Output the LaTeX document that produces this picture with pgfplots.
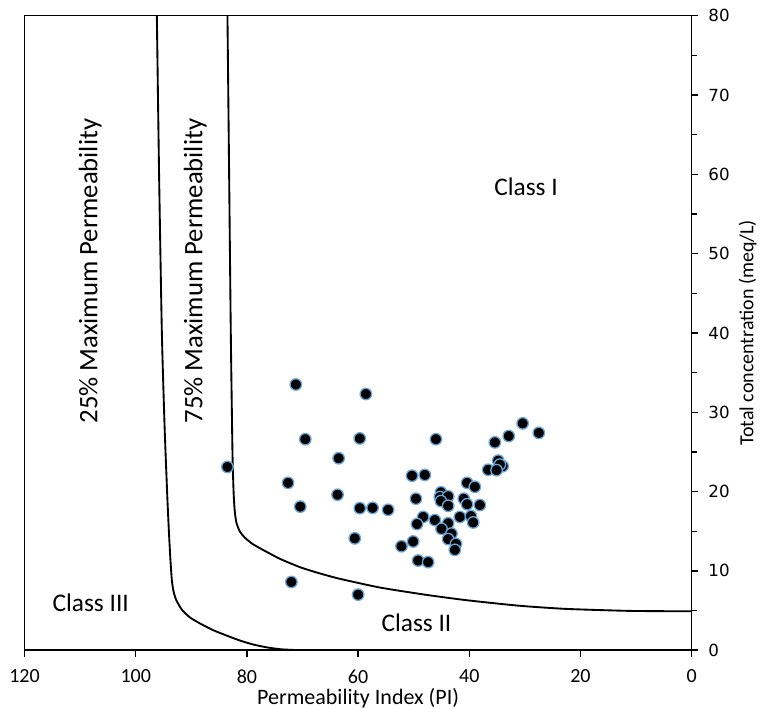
\documentclass[border=0pt]{standalone}
\usepackage{pgfplots}
\pgfplotsset{compat=1.18}
\usepackage{fontspec}
\setmainfont{Carlito}
\newfontfamily\dejavu{DejaVu Sans}
\definecolor{edgeblue}{RGB}{105,165,215}

\begin{document}
\begin{tikzpicture}
\begin{axis}[
  name=ax,
  at={(0,0)}, anchor=south west,
  width=500pt, height=475.5pt, scale only axis,
  xmin=0, xmax=120, ymin=0, ymax=80,
  x dir=reverse,
  clip=false,
  axis line style={line width=1.1pt},
  xtick={0,20,...,120},
  ytick={0,10,...,80},
  minor ytick={5,15,...,75},
  xtick pos=left, ytick pos=right,
  yticklabel pos=right,
  tick align=outside,
  major tick length=5pt,
  minor tick length=4pt,
  tick style={line width=1pt, black},
  /pgf/number format/assume math mode=true,
  xticklabel style={font=\fontsize{15}{17}\selectfont, yshift=-6pt},
  yticklabel style={font=\dejavu\fontsize{12.5}{14}\selectfont, xshift=4pt},
  every axis x label/.style={at={(axis description cs:0.5,0)}, anchor=base, yshift=-40.9pt},
  every axis y label/.style={at={(axis description cs:1,0.5)}, xshift=42pt, rotate=90, anchor=center},
  xlabel={Permeability Index (PI)},
  ylabel={Total concentration (meq/L)},
  xlabel style={font=\fontsize{16.5}{18}\selectfont},
  ylabel style={font=\fontsize{15}{17}\selectfont},
]
% 25% maximum permeability curve
\addplot[black, line width=1.4pt, smooth, tension=0.35] coordinates {
(96.2,80) (95.8,60) (95.3,40) (94.8,28) (94.3,19) (94.0,14.5) (93.75,11.3) (93.5,8.8) (93.2,7.4) (92.7,6.3) (91.7,5.1) (90.2,4.1) (88.0,3.2) (86.0,2.5) (83.5,1.8) (81.2,1.2) (78.8,0.7) (76.4,0.35) (74.0,0.12) (71.7,0.03)
};
% 75% maximum permeability curve
\addplot[black, line width=1.4pt, smooth, tension=0.35] coordinates {
(83.5,80) (83.2,60) (82.9,40) (82.6,25) (82.4,20) (82.2,17.6) (81.9,16.1) (81.3,15.0) (80.4,14.2) (79.0,13.4) (77.0,12.6) (74.0,11.5) (70.4,10.45) (67.0,9.7) (63.3,9.0) (56.1,7.9) (48.0,7.0) (40.5,6.3) (31.0,5.6) (22.5,5.2) (11.0,4.95) (0,4.9)
};
% samples
\addplot[only marks, mark=*, mark size=4.3pt, mark options={fill=black, draw=edgeblue, line width=1pt}] table {
x y
71.2 33.5
58.6 32.3
69.5 26.6
59.7 26.7
63.5 24.2
83.5 23.1
72.6 21.1
63.7 19.6
70.4 18.1
59.7 17.9
57.4 17.95
54.6 17.7
60.6 14.1
72.0 8.6
60.0 7.0
30.4 28.6
27.5 27.4
32.9 27.0
35.4 26.2
46.0 26.6
34.8 23.9
34.0 23.2
34.5 23.4
36.6 22.75
35.1 22.7
50.3 22.0
48.0 22.1
40.4 21.1
39.0 20.6
45.1 19.9
49.6 19.1
45.3 19.3
43.8 19.4
41.0 19.1
40.4 18.4
45.1 18.8
43.8 18.2
38.1 18.3
41.7 16.8
39.7 16.9
48.3 16.8
46.2 16.4
39.3 16.1
49.4 15.9
43.8 16.0
45.0 15.3
43.2 14.7
43.8 14.0
50.1 13.7
52.2 13.1
42.4 13.4
42.6 12.65
49.2 11.3
47.4 11.1
};
\node[rotate=90, font=\fontsize{20}{22}\selectfont] at (axis cs:108.2,47.8) {25\% Maximum Permeability};
\node[rotate=90, font=\fontsize{20}{22}\selectfont] at (axis cs:89.3,47.8) {75\% Maximum Permeability};
\node[font=\fontsize{19}{21}\selectfont] at (axis cs:29.8,58.4) {Class I};
\node[font=\fontsize{19}{21}\selectfont] at (axis cs:49.5,3.5) {Class II};
\node[font=\fontsize{19}{21}\selectfont] at (axis cs:108.1,6.0) {Class III};
\end{axis}
\pgfresetboundingbox
\path[use as bounding box] ([xshift=-18.4pt,yshift=-43.9pt]ax.south west) rectangle ([xshift=57.2pt,yshift=11.8pt]ax.north east);
\end{tikzpicture}
\end{document}
